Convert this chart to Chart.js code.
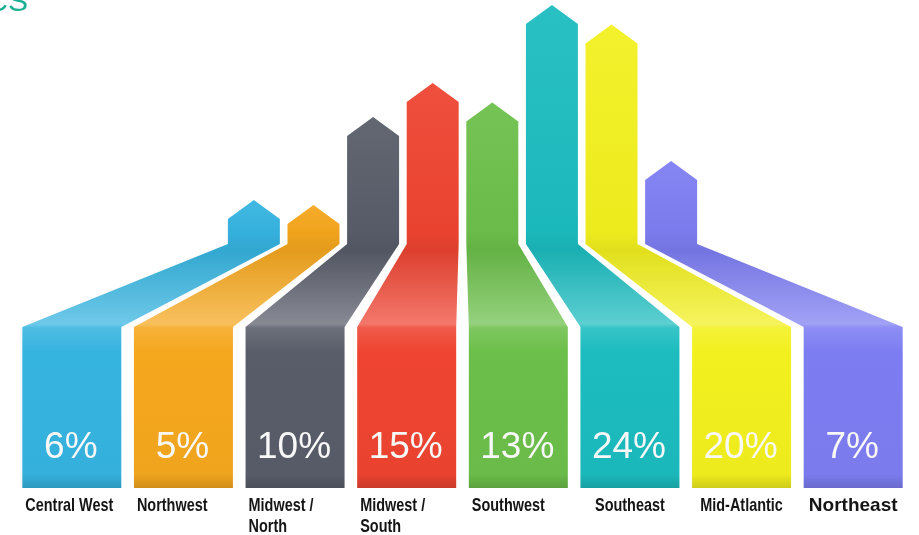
<!DOCTYPE html>
<html>
<head>
<meta charset="utf-8">
<script src="https://cdn.jsdelivr.net/npm/chart.js@4.4.0/dist/chart.umd.min.js"></script>
<style>
    html, body { margin: 0; padding: 0; background: #fff; }
    #wrap { position: relative; width: 919px; height: 535px; }
</style>
</head>
<body>
<div id="wrap"><canvas id="regionsChart"></canvas></div>
<script>
// Data
const regions = ['Central West', 'Northwest', 'Midwest / North', 'Midwest / South', 'Southwest', 'Southeast', 'Mid-Atlantic', 'Northeast'];
const labelLines = [['Central West'], ['Northwest'], ['Midwest /', 'North'], ['Midwest /', 'South'], ['Southwest'], ['Southeast'], ['Mid-Atlantic'], ['Northeast']];
const percents = [6, 5, 10, 15, 13, 24, 20, 7];
// arrow tip height of each region on the hidden 0-100 axis
const arrowLevels = [59, 58, 76, 83, 79, 99, 95, 67];
const palette = ['#36b4e0', '#f5a71e', '#585d69', '#ee4431', '#6cbf4a', '#1cbcbf', '#f2f01e', '#7d7df2'];

const BOX_LEVEL = 33;   // top of the bottom boxes
const BEND_LEVEL = 50;  // where the column turns into the slanted ribbon

function mix(hex, target, t) {
    const a = parseInt(hex.slice(1), 16), b = parseInt(target.slice(1), 16);
    const ch = s => {
        const x = (a >> s) & 255, y = (b >> s) & 255;
        return Math.round(x + (y - x) * t);
    };
    return `rgb(${ch(16)},${ch(8)},${ch(0)})`;
}

const arrowPlugin = {
    id: 'arrows',
    afterDatasetsDraw(chart) {
        const { ctx, chartArea, scales } = chart;
        const meta = chart.getDatasetMeta(0);
        const midX = (chartArea.left + chartArea.right) / 2;
        const yBox = scales.y.getPixelForValue(BOX_LEVEL);
        const yBend = scales.y.getPixelForValue(BEND_LEVEL);
        const yBottom = scales.y.getPixelForValue(0);

        ctx.save();
        meta.data.forEach((bar, i) => {
            const c = palette[i];
            const half = bar.width / 2;
            const bL = bar.x - half, bR = bar.x + half;
            // columns are squeezed towards the middle
            const cx = midX + (bar.x - midX) * 0.534;
            const cw = bar.width * 0.525 / 2;
            const cL = cx - cw, cR = cx + cw;
            const tip = bar.y;
            const head = 19;

            const span = yBottom - tip;
            const f = y => Math.min(1, Math.max(0, (y - tip) / span));
            const g = ctx.createLinearGradient(0, tip, 0, yBottom);
            g.addColorStop(0, mix(c, '#ffffff', 0.06));
            g.addColorStop(f(yBend - 12), mix(c, '#000000', 0.02));
            g.addColorStop(f(yBend + 6), mix(c, '#000000', 0.07));
            g.addColorStop(f(yBox - 3), mix(c, '#ffffff', 0.28));
            g.addColorStop(f(yBox + 1), mix(c, '#ffffff', 0.12));
            g.addColorStop(f(yBox + 25), c);
            g.addColorStop(f(yBottom - 14), mix(c, '#000000', 0.02));
            g.addColorStop(1, mix(c, '#000000', 0.15));

            ctx.beginPath();
            ctx.moveTo(cx, tip);
            ctx.lineTo(cR, tip + head);
            ctx.lineTo(cR, yBend);
            ctx.lineTo(bR, yBox);
            ctx.lineTo(bR, yBottom);
            ctx.lineTo(bL, yBottom);
            ctx.lineTo(bL, yBox);
            ctx.lineTo(cL, yBend);
            ctx.lineTo(cL, tip + head);
            ctx.closePath();
            ctx.fillStyle = g;
            ctx.fill();

            // percentage inside the box
            ctx.fillStyle = '#f8f8f8';
            ctx.font = '37px "Liberation Sans", Arial, sans-serif';
            ctx.textAlign = 'center';
            ctx.textBaseline = 'alphabetic';
            ctx.fillText(percents[i] + '%', bar.x - 1, yBottom - 30);

            // region name under the box (condensed look by squeezing the text)
            ctx.fillStyle = '#151515';
            const last = i === meta.data.length - 1;
            const squeeze = last ? 1 : 0.76;
            ctx.font = 'bold 19px "Liberation Sans", Arial, sans-serif';
            ctx.textAlign = i < 5 ? 'left' : 'center';
            const tx = i < 5 ? bL + 3 : bar.x;
            labelLines[i].forEach((line, k) => {
                ctx.save();
                ctx.translate(tx, yBottom + 23 + k * 21);
                ctx.scale(squeeze, 1);
                ctx.fillText(line, 0, 0);
                ctx.restore();
            });
        });

        // title clipped by the top edge
        ctx.fillStyle = '#1aae93';
        ctx.font = '30px "Liberation Sans", Arial, sans-serif';
        ctx.textAlign = 'right';
        ctx.fillText('ICS', 28, 11);
        ctx.restore();
    }
};

new Chart(document.getElementById('regionsChart'), {
    type: 'bar',
    data: {
        labels: regions,
        datasets: [{
            label: 'Share',
            data: arrowLevels,
            backgroundColor: 'rgba(0,0,0,0)',
            categoryPercentage: 1,
            barPercentage: 0.887
        }]
    },
    options: {
        responsive: true,
        maintainAspectRatio: false,
        animation: false,
        layout: { padding: { left: 16, right: 10, top: 0, bottom: 47 } },
        plugins: { legend: { display: false }, tooltip: { enabled: false } },
        scales: {
            x: { display: false },
            y: { display: false, min: 0, max: 100 }
        }
    },
    plugins: [arrowPlugin]
});
</script>
</body>
</html>
